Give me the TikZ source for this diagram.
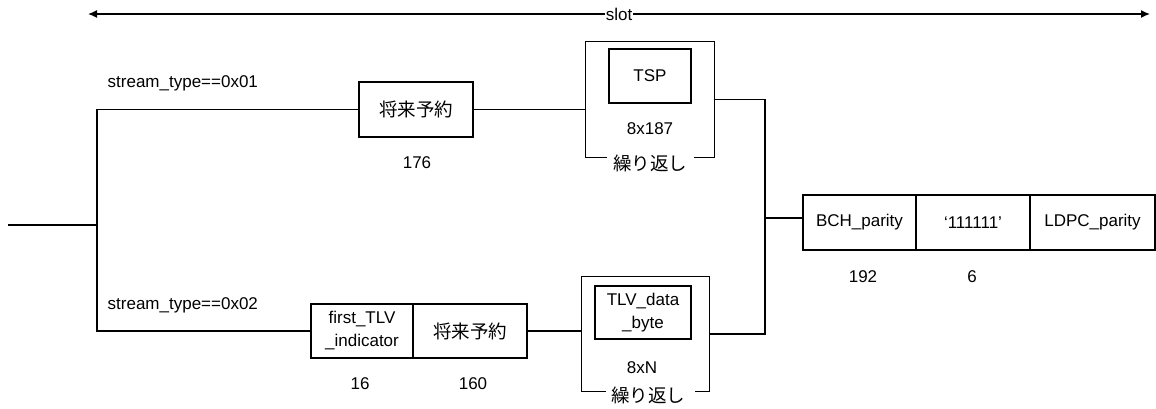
\documentclass[tikz,border=0pt]{standalone}
\usepackage{fontspec}
\setmainfont{Liberation Sans}
\newfontfamily\jp{Noto Sans CJK JP}
\usetikzlibrary{arrows.meta}
\begin{document}
\begin{tikzpicture}[x=1pt,y=-1pt,line width=1.4pt,
  box/.style={draw,minimum width=#1,minimum height=55pt,inner sep=0pt,align=center,font=\fontsize{17}{23}\selectfont},
  frame/.style={draw=none,minimum width=#1,inner sep=0pt},
  lbl/.style={inner sep=0pt,font=\fontsize{17}{20}\selectfont},
  jfont/.style={font=\jp\fontsize{18.5}{20}\selectfont},
  jlbl/.style={inner sep=0pt,jfont}]
\useasboundingbox (0,0) rectangle (1156,408);

% slot arrow
\coordinate (sl) at (88,14);
\coordinate (sr) at (1150,14);
\draw[{Latex[length=9pt,width=8pt]}-{Latex[length=9pt,width=8pt]}] (sl) -- (sr)
  node[midway,fill=white,lbl,inner xsep=1pt] (slot) {slot};

% input
\coordinate (in) at (8,225);
\coordinate (jn) at (97,225);

% top branch
\node[lbl,anchor=west] (st1) at (107,83) {stream\_type==0x01};
\node[box=114pt,jfont] (res1) at (416,109.5) {将来予約};
\node[lbl] (n176) at (417,163) {176};
\node[frame=128pt,minimum height=115pt] (rep1) at (650,99.5) {};
\node[box=82pt,minimum height=54pt] (tsp) at (650,76) {TSP};
\node[lbl] (r1n) at (650,129) {8x187};
\node[jlbl] (r1t) at (650,163) {繰り返し};
\draw ([xshift=-43pt]rep1.south) -- (rep1.south west) -- (rep1.north west)
  -- (rep1.north east) -- (rep1.south east) -- ([xshift=44pt]rep1.south);

% bottom branch
\node[lbl,anchor=west] (st2) at (107,305) {stream\_type==0x02};
\node[box=102pt,minimum height=54pt] (ftlv) at (362,331) {first\_TLV\\\_indicator};
\node[box=114pt,minimum height=54pt,jfont] (res2) at (470,331) {将来予約};
\node[lbl] (n16) at (360,384) {16};
\node[lbl] (n160) at (473,384) {160};
\node[frame=127pt,minimum height=114pt] (rep2) at (645.5,334) {};
\node[box=96pt,minimum height=53pt] (tlv) at (643,312.5) {TLV\_data\\\_byte};
\node[lbl] (r2n) at (642,368) {8xN};
\node[jlbl] (r2t) at (648,395) {繰り返し};
\draw ([xshift=-40pt]rep2.south) -- (rep2.south west) -- (rep2.north west)
  -- (rep2.north east) -- (rep2.south east) -- ([xshift=49pt]rep2.south);

% parity part
\coordinate (mj) at (765,218);
\node[box=113pt] (bch) at (859.5,222.5) {BCH\_parity};
\node[box=114pt] (ones) at (973,222.5) {‘111111’};
\node[box=125pt] (ldpc) at (1092.5,222.5) {LDPC\_parity};
\node[lbl] (n192) at (863,277) {192};
\node[lbl] (n6) at (972,277) {6};

% connectors
\draw (in) -- (jn);
\draw (res1.west) -| (jn) |- (ftlv.west);
\draw (res1.east) -- (res1.east -| rep1.west);
\draw (res2.east) -- (res2.east -| rep2.west);
\draw (rep1.east) -| (mj) |- (rep2.east);
\draw (mj) -- (mj -| bch.west);
\end{tikzpicture}
\end{document}
